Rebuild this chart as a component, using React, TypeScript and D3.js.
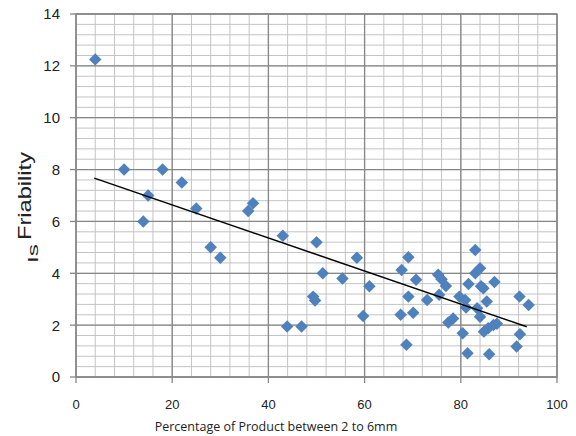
import React from "react";
import * as d3 from "d3";

const xValues = [4, 10, 18, 22, 15, 14, 25, 28, 30, 35.8, 36.8, 43, 50, 58.4, 51.3, 55.4, 61, 49.3, 49.7, 59.7, 43.9, 46.9,
  69.1, 67.7, 70.7, 69.1, 67.5, 70.1, 68.7, 73, 75.3, 76, 76.9, 75.5, 77.4, 78.4, 79.7, 80.9, 81.1, 80.4, 81.4,
  83, 81.6, 83, 84, 84.2, 84.7, 87, 85.4, 83.4, 84, 84.8, 85.7, 86.8, 87.5, 85.9, 92.2, 94.1, 92.3, 91.6];
const yValues = [12.25, 8, 8, 7.5, 7, 6, 6.5, 5, 4.6, 6.4, 6.7, 5.45, 5.2, 4.6, 4.0, 3.8, 3.5, 3.1, 2.95, 2.35, 1.95, 1.95,
  4.62, 4.13, 3.75, 3.1, 2.4, 2.48, 1.24, 2.97, 3.94, 3.77, 3.51, 3.17, 2.1, 2.26, 3.1, 2.97, 2.68, 1.69, 0.92,
  4.9, 3.59, 4.0, 4.19, 3.5, 3.42, 3.66, 2.91, 2.65, 2.32, 1.75, 1.88, 2.01, 2.05, 0.88, 3.1, 2.78, 1.65, 1.18];
const trendX = [3.8, 93.7];
const trendY = [7.67, 1.94];
const xTicks = [0, 20, 40, 60, 80, 100];
const yTicks = [0, 2, 4, 6, 8, 10, 12, 14];
const xTitle = "Percentage of Product between 2 to 6mm";
const yTitlePrefix = "Is";
const yTitle = "Friability";

export default function App() {
  const W = 576, H = 436;
  const L = 76, R = 557, T = 14, B = 377;
  const x = d3.scaleLinear().domain([0, 100]).range([L, R]);
  const y = d3.scaleLinear().domain([0, 14]).range([B, T]);
  const xMinor = d3.range(0, 100.001, 4);
  const yMinor = d3.range(0, 14.001, 0.4);
  const diamond = d3.symbol().type(d3.symbolSquare).size(78)();
  const line = d3.line<number>().x((d, i) => x(trendX[i])).y((d, i) => y(trendY[i]));
  return (
    <svg width={W} height={H} style={{ position: "absolute", left: 0, top: 0, background: "#fff" }}>
      <g>
        {yMinor.map((v, i) => (
          <line key={"ym" + i} x1={L} x2={R} y1={y(v)} y2={y(v)} stroke="#c4c4c4" strokeWidth={1} />
        ))}
        {xMinor.map((v, i) => (
          <line key={"xm" + i} y1={T} y2={B} x1={x(v)} x2={x(v)} stroke="#c4c4c4" strokeWidth={1} />
        ))}
        {yTicks.map((v) => (
          <line key={"yM" + v} x1={L} x2={R} y1={y(v)} y2={y(v)} stroke="#868686" strokeWidth={1.3} />
        ))}
        {xTicks.map((v) => (
          <line key={"xM" + v} y1={T} y2={B} x1={x(v)} x2={x(v)} stroke="#868686" strokeWidth={1.3} />
        ))}
        <rect x={L} y={T} width={R - L} height={B - T} fill="none" stroke="#868686" strokeWidth={1.3} />
        {yTicks.map((v) => (
          <line key={"yt" + v} x1={L - 6} x2={L} y1={y(v)} y2={y(v)} stroke="#868686" strokeWidth={1.3} />
        ))}
        {xTicks.map((v) => (
          <line key={"xt" + v} y1={B} y2={B + 6} x1={x(v)} x2={x(v)} stroke="#868686" strokeWidth={1.3} />
        ))}
      </g>
      <g fill="#4F81BD">
        {xValues.map((v, i) => (
          <path key={"p" + i} d={diamond} transform={`translate(${x(v)},${y(yValues[i])}) rotate(45)`} />
        ))}
      </g>
      <path d={line(trendX) || ""} fill="none" stroke="#000" strokeWidth={1.5} />
      <g fontFamily="Liberation Sans, Arial, sans-serif" fill="#222">
        {yTicks.map((v) => (
          <text key={"yl" + v} x={L - 16} y={y(v)} dy="0.36em" textAnchor="end" fontSize={15}>{v}</text>
        ))}
        {xTicks.map((v) => (
          <text key={"xl" + v} x={x(v)} y={409} textAnchor="middle" fontSize={13}>{v}</text>
        ))}
      </g>
      <text x={276} y={431} textAnchor="middle" fontSize={12.5} fontFamily="Open Sans, sans-serif" fill="#222">{xTitle}</text>
      <g fontFamily="Liberation Sans, Arial, sans-serif" fill="#222">
        <text transform="translate(38,263) rotate(-90)" fontSize={15} textLength={19} lengthAdjust="spacingAndGlyphs">{yTitlePrefix}</text>
        <text transform="translate(31,240) rotate(-90)" fontSize={19} textLength={88} lengthAdjust="spacingAndGlyphs">{yTitle}</text>
      </g>
    </svg>
  );
}
